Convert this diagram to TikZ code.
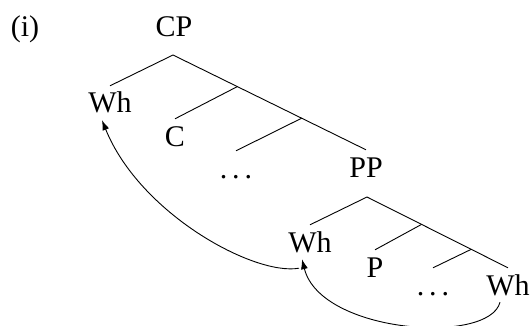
\documentclass[tikz,border=0pt]{standalone}
\usepackage{fontspec}
\setmainfont{Liberation Serif}
\usetikzlibrary{calc,arrows.meta}

\newcommand{\spreaddots}{.\kern5pt.\kern5pt.}

\tikzset{
	lbl/.style={anchor=base, text height=23pt, text depth=3pt, inner sep=4pt},
	branch/.style={draw, line width=0.9pt},
	move/.style={draw, line width=0.9pt, -{Latex[length=10pt,width=7pt]}}
}

\begin{document}
\begin{tikzpicture}[x=1pt, y=1pt, font=\fontsize{30}{36}\selectfont]
	\useasboundingbox (0,0) rectangle (532,-326);
	% labels of the two trees
	\node[lbl] (ex) at (25,-37) {(i)};
	\node[lbl] (cp) at (174,-37) {CP};
	\node[lbl] (wha) at (110,-113) {Wh};
	\node[lbl] (c) at (175,-146) {C};
	\node[lbl] (dotsa) at (236,-178) {\spreaddots};
	\node[lbl] (pp) at (366,-177) {PP};
	\node[lbl] (whb) at (310,-252) {Wh};
	\node[lbl] (p) at (375,-277) {P};
	\node[lbl] (dotsb) at (433,-295) {\spreaddots};
	\node[lbl] (whc) at (508,-295) {Wh};
	% CP tree
	\coordinate (cpb) at (173,-55);
	\path[branch] (cpb) -- (wha.north);
	\path[branch] (cpb) -- (pp.north);
	\coordinate (cpc) at ($(cpb)!1/3!(pp.north)$);
	\coordinate (cpd) at ($(cpb)!2/3!(pp.north)$);
	\path[branch] (cpc) -- (c.north);
	\path[branch] (cpd) -- (dotsa.north);
	% PP tree
	\coordinate (ppb) at (367,-197);
	\path[branch] (ppb) -- (whb.north);
	\path[branch] (ppb) -- (whc.north);
	\coordinate (ppc) at ($(ppb)!0.387!(whc.north)$);
	\coordinate (ppd) at ($(ppb)!0.739!(whc.north)$);
	\path[branch] (ppc) -- (p.north);
	\path[branch] (ppd) -- (dotsb.north);
	% movement
	\path[move] ([xshift=-8pt]whc.south) to[out=-104, in=-76, out looseness=0.56, in looseness=0.97] ([xshift=-8pt]whb.south);
	\path[move] ([xshift=-11pt,yshift=-9pt]whb.south) to[out=190, in=-68, out looseness=0.47, in looseness=1.05] ([xshift=-8pt]wha.south);
\end{tikzpicture}
\end{document}
